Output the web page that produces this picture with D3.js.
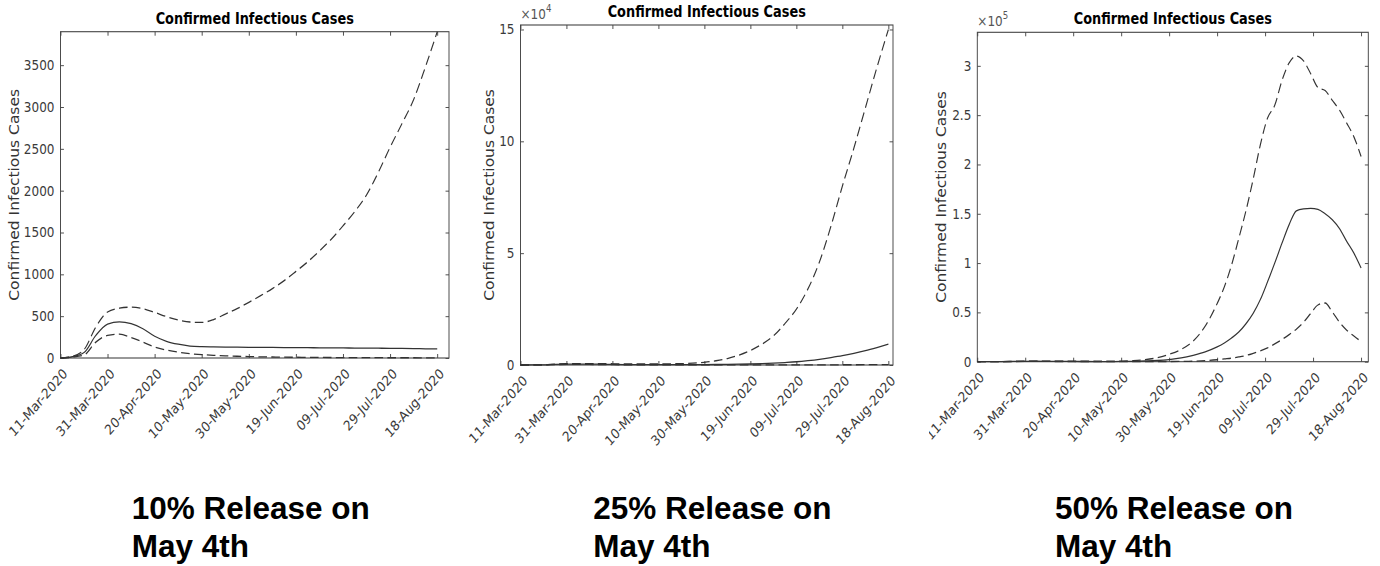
<!DOCTYPE html>
<html>
<head>
<style>
  body { margin: 0; background: #fff; }
  .title { font: bold 15px "DejaVu Sans", sans-serif; fill: #000; text-anchor: middle; }
  .ylab { font: 15.5px "DejaVu Sans", sans-serif; fill: #333; text-anchor: middle; }
  .expo { font: 14px "DejaVu Sans", sans-serif; fill: #555; }
  .caption { font: bold 31.5px "Liberation Sans", Arial, sans-serif; fill: #000; }
</style>
<script src="https://cdnjs.cloudflare.com/ajax/libs/d3/7.8.5/d3.min.js"></script>
</head>
<body>
<svg width="1380" height="566"></svg>
<script>
// days after 11-Mar-2020
const days = [0,5,10,15,20,25,30,35,40,45,50,55,60,65,70,75,80,85,90,95,100,
  105,110,115,120,125,130,135,140,145,150,155,160];
const days50 = [0,5,10,15,20,25,30,35,40,45,50,55,60,65,70,75,80,85,90,95,100,
  103,106,109,112,115,118,121,124,127,130,133,136,139,142,145,148,151,154,157,160];

// 10% release
const upper10 = [0,20,100,370,550,595,608,590,545,495,455,430,425,460,525,590,665,745,830,925,1035,
  1150,1280,1420,1580,1750,1950,2220,2520,2800,3090,3480,3900];
const solid10 = [0,15,65,270,405,432,410,350,260,200,165,143,135,132,130,129,128,127,126,125,124,
  123,122,121,120,119,118,117,116,114,112,110,108];
const lower10 = [0,10,35,190,270,285,245,190,130,95,70,52,40,32,26,21,17,14,12,10,9,
  8,7,6,5,5,4,4,3,3,3,2,2];

// 25% release
const upper25 = [0,20,100,370,550,595,608,590,545,495,455,440,470,540,620,800,1200,1900,2900,4400,6500,
  9300,13000,18500,25000,34000,46000,62000,80000,97000,115000,133000,150000];
const solid25 = [0,15,65,270,405,432,410,350,260,200,165,145,140,145,155,170,195,230,280,350,450,
  600,800,1100,1450,1950,2550,3300,4150,5200,6400,7800,9300];
const lower25 = [0,10,35,190,270,285,245,190,130,95,70,55,45,40,37,35,34,34,35,37,40,
  44,49,55,62,70,80,92,105,120,138,158,180];

// 50% release
const upper50 = [0,20,100,370,550,595,608,590,545,495,455,440,600,1000,2000,4000,7500,12500,21000,36000,59000,
  76000,98000,125000,153000,185000,220000,247000,260000,285000,303000,310000,305000,292000,278000,275000,265000,255000,242000,228000,208000];
const solid50 = [0,15,65,270,405,432,410,350,260,200,165,145,250,400,700,1200,2200,3800,6500,10000,15000,
  19000,24000,30000,38500,49000,63000,81000,100000,120000,139000,153000,155000,155500,154500,150000,144000,135000,122000,110000,95000];
const lower50 = [0,10,35,190,270,285,245,190,130,95,70,52,40,50,80,120,200,300,500,1000,2000,
  2800,3600,4800,6300,8500,11000,14000,18000,22500,27500,33000,40000,49000,57500,59500,50500,40000,32000,26000,20500];

const dateTicks = ["11-Mar-2020","31-Mar-2020","20-Apr-2020","10-May-2020","30-May-2020",
  "19-Jun-2020","09-Jul-2020","29-Jul-2020","18-Aug-2020"];
const yTicks10 = [0,500,1000,1500,2000,2500,3000,3500];
const yTicks25 = [0,5,10,15];
const yTicks50 = [0,0.5,1,1.5,2,2.5,3];
const captions = [["10% Release on","May 4th"],["25% Release on","May 4th"],["50% Release on","May 4th"]];

const parseDate = d3.timeParse("%d-%b-%Y");
const start = parseDate(dateTicks[0]);
const tickDates = dateTicks.map(parseDate);
const sx = 0.86; // the reference panels are squeezed sideways

const panels = [
  {left: 60.5, top: 31.7, right: 449, bottom: 358, xEnd: 165.5, div: 1, yMax: 3900,
   yTicks: yTicks10, ylabX: 14, titleY: 24, expo: null, days: days,
   series: [upper10, solid10, lower10]},
  {left: 520.5, top: 25, right: 893, bottom: 365, xEnd: 162.7, div: 1e4, yMax: 15.2,
   yTicks: yTicks25, ylabX: 489, titleY: 17, expo: "4", expoY: 19, days: days,
   series: [upper25, solid25, lower25]},
  {left: 977.3, top: 32.3, right: 1368.3, bottom: 361.7, xEnd: 163.4, div: 1e5, yMax: 3.34,
   yTicks: yTicks50, ylabX: 941, titleY: 24, expo: "5", expoY: 26.5, days: days50, clipLeft: 929,
   series: [upper50, solid50, lower50]}
];

const svg = d3.select("svg");

panels.forEach((p, i) => {
  let outer = svg.append("g");
  if (p.clipLeft) {
    svg.append("clipPath").attr("id", "clip" + i)
      .append("rect").attr("x", p.clipLeft).attr("y", 0).attr("width", 1380 - p.clipLeft).attr("height", 460);
    outer.attr("clip-path", "url(#clip" + i + ")");
  }
  const g = outer.append("g").attr("transform", `translate(${p.left},0) scale(${sx},1)`);
  const w = (p.right - p.left) / sx;

  const x = d3.scaleTime().domain([start, d3.timeDay.offset(start, p.xEnd)]).range([0, w]);
  const y = d3.scaleLinear().domain([0, p.yMax]).range([p.bottom, p.top]);

  // x axis, bottom with rotated labels
  const xb = g.append("g").attr("transform", `translate(0,${p.bottom})`)
    .call(d3.axisBottom(x).tickValues(tickDates).tickSize(-4).tickSizeOuter(0)
      .tickFormat(d3.timeFormat("%d-%b-%Y")));
  xb.selectAll("text")
    .attr("x", 0).attr("y", 0).attr("dy", "0.35em")
    .attr("transform", "translate(5,13) rotate(-45)")
    .style("text-anchor", "end");

  g.append("g").attr("transform", `translate(0,${p.top})`)
    .call(d3.axisTop(x).tickValues(tickDates).tickSize(-4).tickSizeOuter(0).tickFormat(""));

  g.append("g")
    .call(d3.axisLeft(y).tickValues(p.yTicks).tickSize(-4).tickSizeOuter(0).tickPadding(7)
      .tickFormat(d3.format("~g")));
  g.append("g").attr("transform", `translate(${w},0)`)
    .call(d3.axisRight(y).tickValues(p.yTicks).tickSize(-4).tickSizeOuter(0).tickFormat(""));

  g.selectAll(".domain").remove();
  g.selectAll(".tick line").attr("stroke", "#444");
  g.selectAll(".tick text").attr("fill", "#3a3a3a")
    .attr("font-size", 14).attr("font-family", "DejaVu Sans, sans-serif");

  g.append("rect").attr("x", 0).attr("y", p.top).attr("width", w).attr("height", p.bottom - p.top)
    .attr("fill", "none").attr("stroke", "#444").attr("stroke-width", 1.1);

  // lines: upper dashed, solid, lower dashed
  const line = d3.line()
    .x((d, k) => x(d3.timeDay.offset(start, p.days[k])))
    .y(d => y(d / p.div))
    .curve(d3.curveMonotoneX);
  p.series.forEach((s, k) => {
    g.append("path").datum(s)
      .attr("d", line)
      .attr("fill", "none")
      .attr("stroke", "#333")
      .attr("stroke-width", 1.3)
      .attr("stroke-dasharray", k === 1 ? null : "10,5");
  });

  g.append("text").attr("class", "title").attr("x", w / 2).attr("y", p.titleY)
    .text("Confirmed Infectious Cases");

  g.append("text").attr("class", "ylab")
    .attr("transform", `translate(${(p.ylabX - p.left) / sx},${(p.top + p.bottom) / 2}) rotate(-90)`)
    .attr("dy", "0.35em")
    .text("Confirmed Infectious Cases");

  if (p.expo) {
    const t = g.append("text").attr("class", "expo").attr("x", 0).attr("y", p.expoY);
    t.append("tspan").text("\u00d710");
    t.append("tspan").attr("font-size", 10).attr("dy", -7).text(p.expo);
  }
});

// captions under the panels
captions.forEach((c, i) => {
  const t = svg.append("text").attr("class", "caption").attr("x", 131.7 + i * 461.6).attr("y", 519.3);
  t.append("tspan").attr("x", 131.7 + i * 461.6).text(c[0]);
  t.append("tspan").attr("x", 131.7 + i * 461.6).attr("y", 557.3).text(c[1]);
});
</script>
</body>
</html>
